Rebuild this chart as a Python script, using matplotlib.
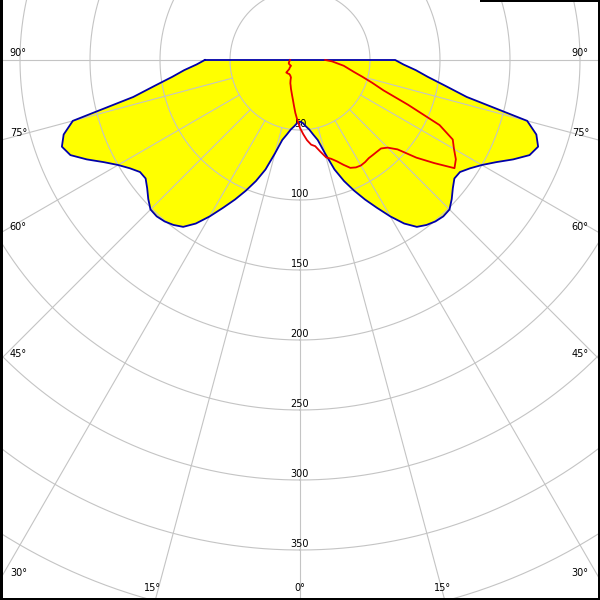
import numpy as np
import matplotlib
matplotlib.use("Agg")
import matplotlib.pyplot as plt
from matplotlib.patches import Rectangle

# ---- data (gamma angle in degrees, intensity in cd/klm) ----
angles = np.arange(-90, 90.01, 2.5)

# C0-C180 plane (filled, blue outline); left half then right half
blue_left = [68, 74, 83, 92, 105, 122, 168, 177, 181, 177.5, 168, 158, 150, 144,
             139.5, 139, 142.5, 147, 151, 151.5, 150.5, 148.5, 145.5, 138.5, 129,
             119, 110, 101, 92, 82, 69, 58.5, 54, 50, 47.5, 45]
blue_right = [44, 45, 47.5, 50, 54, 58.5, 69, 82, 92, 101, 110, 119, 129, 138.5,
              145.5, 148.5, 150.5, 151.5, 151, 147, 142.5, 139, 139.5, 144, 150,
              158, 168, 177.5, 181, 177, 168, 122, 105, 92, 83, 74, 68]
blue_vals = blue_left + blue_right

# C90-C270 plane (red line)
red_left = [7.1, 7.3, 7.5, 7.7, 7.9, 8.1, 8.3, 8.4, 8.3, 8.1, 8.0, 7.9, 7.8, 7.6,
            8.5, 9.4, 10, 13.3, 13.1, 13.0, 12.8, 12.6, 12.8, 13.0, 13.5, 14,
            16, 18, 19.5, 21.5, 23.5, 26, 29, 33, 38, 43]
red_right = [48.5, 53, 57.5, 61, 62.5, 67, 72, 74, 77, 81, 85, 86.5, 87, 86.5,
             85.6, 85.5, 85.5, 85.7, 88.5, 94.5, 108.5, 121, 134.7, 132, 127,
             123, 110, 83.5, 63.5, 54, 46, 39.5, 35, 31.5, 26.5, 23, 18]
red_vals = red_left + red_right

radial_ticks = [50, 100, 150, 200, 250, 300, 350]
grid_circles = [50, 100, 150, 200, 250, 300, 350, 400, 450]
grid_angles = [-90, -75, -60, -45, -30, -15, 0, 15, 30, 45, 60, 75, 90]

# angle labels: (text, x px, y px)
angle_labels = [("90°", 18, 53), ("75°", 19, 133), ("60°", 18, 227),
                ("45°", 18, 354), ("30°", 19, 573), ("15°", 153, 588),
                ("0°", 300, 588), ("15°", 443, 588), ("30°", 580, 573),
                ("45°", 580, 354), ("60°", 580, 227), ("75°", 581, 133),
                ("90°", 580, 53)]

# ---- layout ----
W = H = 600
scale = 1.4          # px per unit
cx, cy = 300, 60     # pole position in pixels
rmax = 450
R = rmax * scale

fig = plt.figure(figsize=(6, 6), dpi=100)
fig.patch.set_facecolor("white")
ax = fig.add_axes([(cx - R) / W, (H - cy - R) / H, 2 * R / W, 2 * R / H],
                  projection="polar")
ax.set_theta_zero_location("S")
ax.set_ylim(0, rmax)
ax.axis("off")

th = np.deg2rad(angles)
bv = np.array(blue_vals, dtype=float)
rv = np.array(red_vals, dtype=float)

# closed polygon for C0-C180 (closing line passes through the pole)
poly_t = np.concatenate([th, [np.pi / 2, -np.pi / 2, th[0]]])
poly_r = np.concatenate([bv, [0, 0, bv[0]]])
ax.fill(poly_t, poly_r, color="#ffff00", lw=0, zorder=1)

# grid
grid_col = "#c4c4c4"
tt = np.linspace(0, 2 * np.pi, 1441)
for r in grid_circles:
    ax.plot(tt, np.full_like(tt, r), color=grid_col, lw=0.8, zorder=2)
for a in grid_angles:
    ax.plot([np.deg2rad(a)] * 2, [50, rmax], color=grid_col, lw=0.8, zorder=2)

# radial labels
for r in radial_ticks:
    ax.text(0, r - 6 / scale, str(r), ha="center", va="center", fontsize=7,
            color="black", zorder=3)

# curves
ax.plot(poly_t, poly_r, color="#0000a8", lw=1.3, zorder=4)
ax.plot(th, rv, color="#e80000", lw=1.3, zorder=5)

# angle labels
for s, x, y in angle_labels:
    fig.text(x / W, 1 - y / H, s, ha="center", va="center", fontsize=7,
             color="black")

# frame
for (x, y, w, h) in [(0, 0, 3, 600), (0, 598, 600, 2), (598, 0, 2, 600),
                     (480, 0, 120, 2)]:
    fig.add_artist(Rectangle((x / W, 1 - (y + h) / H), w / W, h / H,
                             transform=fig.transFigure, color="black", lw=0))

fig.savefig("out.png", dpi=100)
